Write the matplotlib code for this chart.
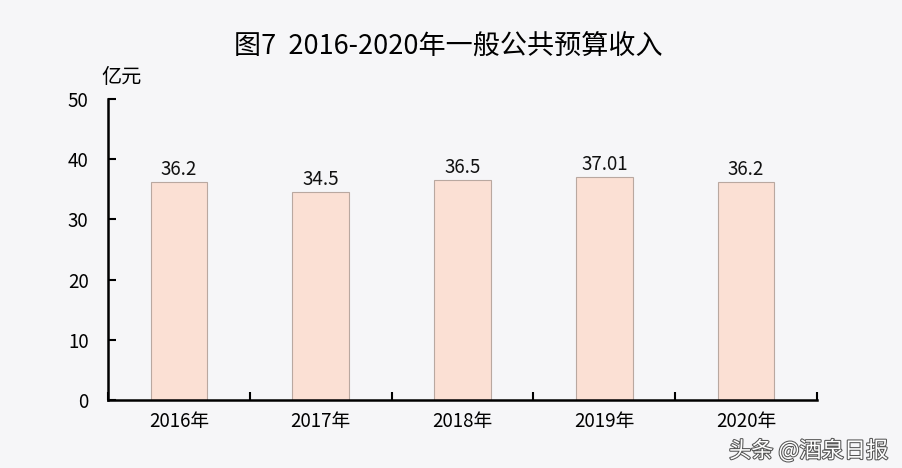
import matplotlib
matplotlib.use("Agg")
import matplotlib.pyplot as plt
import matplotlib.patheffects as pe

plt.rcParams['font.family'] = ['Noto Sans CJK SC', 'DejaVu Sans']

years = ["2016年", "2017年", "2018年", "2019年", "2020年"]
values = [36.2, 34.5, 36.5, 37.01, 36.2]
value_labels = ["36.2", "34.5", "36.5", "37.01", "36.2"]
yticks = [0, 10, 20, 30, 40, 50]

bg = "#F6F6F8"
fig = plt.figure(figsize=(9.02, 4.68), dpi=100, facecolor=bg)
ax = fig.add_axes([0.1197, 0.1453, 0.7861, 0.6432], facecolor=bg)

x = list(range(len(years)))
ax.bar(x, values, width=0.4, color="#FBE0D4", edgecolor="#B9A8A0", linewidth=0.8)
for xi, v, lab in zip(x, values, value_labels):
    ax.text(xi, v + 0.4, lab, ha="center", va="bottom", fontsize=13.5, color="#111111")

ax.set_xlim(-0.5, len(years) - 0.5)
ax.set_ylim(0, 50)
ax.set_yticks(yticks)
ax.set_yticklabels([str(t) for t in yticks], fontsize=13.5)
ax.set_xticks(x)
ax.set_xticklabels(years, fontsize=13.5)
ax.tick_params(axis="x", length=0, pad=8)
ax.set_xticks([i + 0.5 for i in range(-1, len(years))], minor=True)
ax.tick_params(axis="x", which="minor", direction="in", length=6, width=1.5, color="black")
ax.tick_params(axis="y", direction="in", length=6, width=1.5, pad=14)
for s in ["top", "right"]:
    ax.spines[s].set_visible(False)
for s in ["left", "bottom"]:
    ax.spines[s].set_linewidth(1.8)

fig.text(0.497, 0.9, "图7  2016-2020年一般公共预算收入", ha="center", va="center", fontsize=19.5)
fig.text(0.135, 0.835, "亿元", ha="center", va="center", fontsize=14.5)
fig.text(0.985, 0.037, "头条 @酒泉日报", ha="right", va="center", fontsize=16, color="white",
         path_effects=[pe.withStroke(linewidth=1.5, foreground="#555555")])

fig.savefig("out.png", dpi=100, facecolor=bg)
